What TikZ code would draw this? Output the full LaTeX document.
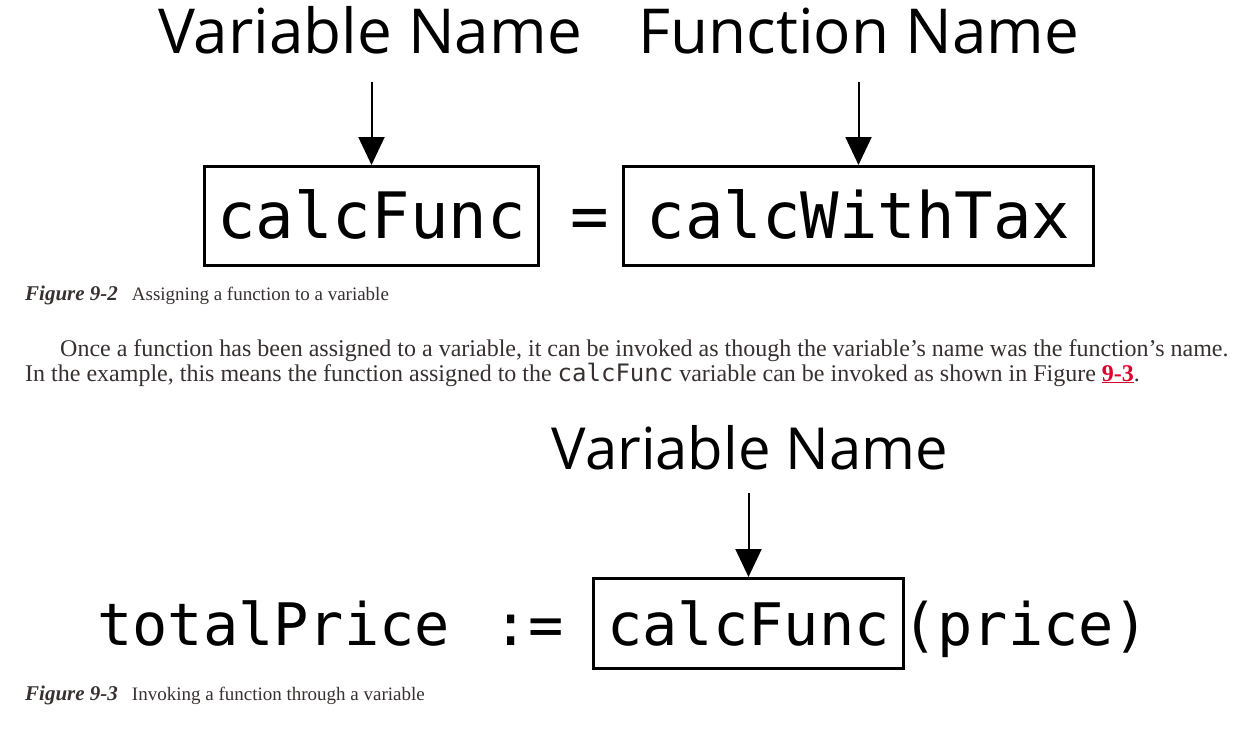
\documentclass[tikz,border=0pt]{standalone}
\usepackage{fontspec}
\setmainfont{Liberation Serif}
\newfontfamily\labelfont{Open Sans}
\newfontfamily\codefont{DejaVu Sans Mono}
\usepackage{xcolor}
\usetikzlibrary{arrows.meta, positioning}
\definecolor{bodygray}{RGB}{56,48,48}
\definecolor{linkred}{RGB}{222,0,44}

\begin{document}
\begin{tikzpicture}[x=1pt, y=-1pt,
    heading/.style={font=\labelfont\fontsize{#1}{#1}\selectfont, anchor=base, inner sep=0pt},
    code/.style={font=\codefont\fontsize{#1}{#1}\selectfont, anchor=base, inner sep=0pt},
    codebox/.style={draw, line width=3pt},
    pointer/.style={line width=2pt, -{Triangle[length=28pt, width=26pt]}},
    caption/.style={text=bodygray, anchor=base west, inner sep=0pt},
    body/.style={font=\fontsize{24}{28}\selectfont, text=bodygray, anchor=base west, inner sep=0pt}]
    \useasboundingbox (0,0) rectangle (1242,731);
    \node[heading=62] (vname) at (370,53) {Variable Name};
    \node[heading=62] (fname) at (859,53) {Function Name};
    \node[code=64, codebox, minimum width=334pt, text height=71.5pt, text depth=27.5pt] (vbox) at (371.5,238) {calcFunc};
    \node[code=64] (assign) at (590,238) {=};
    \node[code=64, codebox, minimum width=470pt, text height=71.5pt, text depth=27.5pt] (fbox) at (858.5,238) {calcWithTax};
    \draw[pointer, shorten <=29pt] (vname.base -| vbox.north) -- (vbox.north);
    \draw[pointer, shorten <=29pt] (fname.base -| fbox.north) -- (fbox.north);
    \node[caption] (cap2) at (25,300) {\fontsize{21}{24}\selectfont\bfseries\itshape Figure 9-2\hspace{14pt}\mdseries\upshape\fontsize{19}{22}\selectfont Assigning a function to a variable};
    \node[body] (line1) at (60,356) {Once a function has been assigned to a variable, it can be invoked as though the variable’s name was the function’s name.};
    \node[body] (line2) at (25,381) {In the example, this means the function assigned to the {\codefont calcFunc} variable can be invoked as shown in Figure \textcolor{linkred}{\underline{\textbf{9-3}}}.};
    \node[heading=58] (vname2) at (750,469) {Variable Name};
    \node[code=58.6, anchor=base west] (total) at (97,645) {totalPrice};
    \node[code=58.6, anchor=base west] (walrus) at (493,645) {:=};
    \node[code=58.6, codebox, minimum width=310pt, text height=66.5pt, text depth=23.5pt] (cbox) at (748.5,645) {calcFunc};
    \node[code=58.6, anchor=base west] (args) at (902,645) {(price)};
    \draw[pointer, shorten <=24pt] (vname2.base -| cbox.north) -- (cbox.north);
    \node[caption] (cap3) at (25,700) {\fontsize{21}{24}\selectfont\bfseries\itshape Figure 9-3\hspace{14pt}\mdseries\upshape\fontsize{19}{22}\selectfont Invoking a function through a variable};
\end{tikzpicture}
\end{document}
